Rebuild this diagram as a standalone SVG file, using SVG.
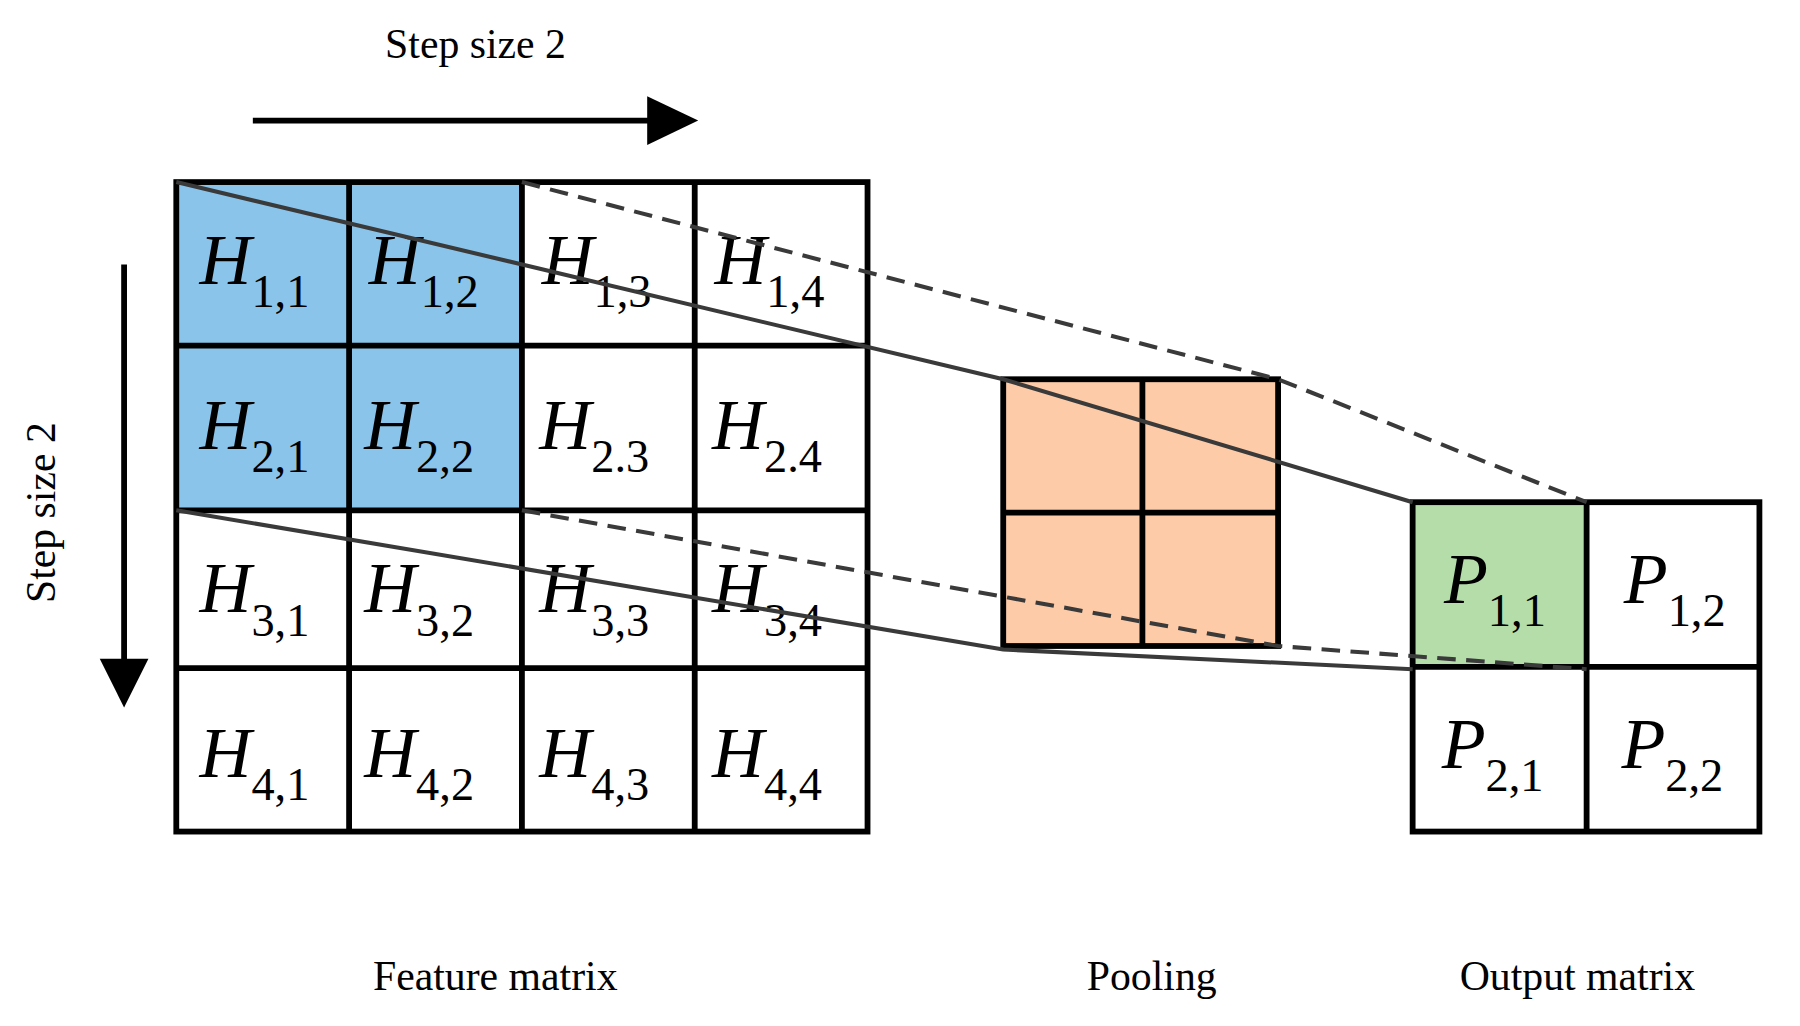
<svg xmlns="http://www.w3.org/2000/svg" width="1800" height="1026" viewBox="0 0 1800 1026">
<style>
.g{fill:none;stroke:#000;stroke-width:5}
.c{stroke:#000;stroke-width:5}
.t{font-family:"Liberation Serif",serif;fill:#000}
.h{font-family:"Liberation Serif",serif;font-style:italic;font-size:62px}
.s{font-size:40px;font-style:normal}
.l{fill:none;stroke:#3a3a3a;stroke-width:3.5}
.d{stroke-dasharray:16 9}
</style>
<rect width="1800" height="1026" fill="#fff"/>
<g transform="scale(1.1598)">
<g id="feature">
<rect x="152" y="157" width="298" height="283" fill="#8BC4EA"/>
<rect x="152" y="157" width="596" height="560" class="g"/>
<path class="g" d="M301 157V717M450 157V717M599 157V717M152 298H748M152 440H748M152 576H748"/>
<g class="h">
<text x="172" y="245">H<tspan class="s" dy="20">1,1</tspan></text>
<text x="318" y="245">H<tspan class="s" dy="20">1,2</tspan></text>
<text x="467" y="245">H<tspan class="s" dy="20">1,3</tspan></text>
<text x="616" y="245">H<tspan class="s" dy="20">1,4</tspan></text>
<text x="172" y="387">H<tspan class="s" dy="20">2,1</tspan></text>
<text x="314" y="387">H<tspan class="s" dy="20">2,2</tspan></text>
<text x="465" y="387">H<tspan class="s" dy="20">2.3</tspan></text>
<text x="614" y="387">H<tspan class="s" dy="20">2.4</tspan></text>
<text x="172" y="528">H<tspan class="s" dy="20">3,1</tspan></text>
<text x="314" y="528">H<tspan class="s" dy="20">3,2</tspan></text>
<text x="465" y="528">H<tspan class="s" dy="20">3,3</tspan></text>
<text x="614" y="528">H<tspan class="s" dy="20">3,4</tspan></text>
<text x="172" y="670">H<tspan class="s" dy="20">4,1</tspan></text>
<text x="314" y="670">H<tspan class="s" dy="20">4,2</tspan></text>
<text x="465" y="670">H<tspan class="s" dy="20">4,3</tspan></text>
<text x="614" y="670">H<tspan class="s" dy="20">4,4</tspan></text>
</g>
</g>
<g id="pooling">
<rect x="865" y="327" width="237" height="230" fill="#FDCBA8" class="c"/>
<path class="g" d="M985 327V557M865 442H1102"/>
</g>
<g id="output">
<rect x="1218" y="433" width="150" height="142" fill="#B5DDAA"/>
<rect x="1218" y="433" width="299" height="284" class="g"/>
<path class="g" d="M1368 433V717M1218 575H1517"/>
<g class="h">
<text x="1245" y="520">P<tspan class="s" dy="20">1,1</tspan></text>
<text x="1400" y="520">P<tspan class="s" dy="20">1,2</tspan></text>
<text x="1243" y="662">P<tspan class="s" dy="20">2,1</tspan></text>
<text x="1398" y="662">P<tspan class="s" dy="20">2,2</tspan></text>
</g>
</g>
<g id="connectors">
<polyline class="l" points="152,157 865,327 1218,433"/>
<polyline class="l d" points="450,157 1102,327 1368,433"/>
<polyline class="l" points="152,440 865,560 1218,577"/>
<polyline class="l d" points="450,440 1102,557 1368,577"/>
<line x1="218" y1="104" x2="565" y2="104" stroke="#000" stroke-width="5"/>
<polygon points="558,83 602,104 558,125"/>
<line x1="107" y1="228" x2="107" y2="575" stroke="#000" stroke-width="5"/>
<polygon points="86,568 128,568 107,610"/>
</g>
<g class="t" font-size="36">
<text x="410" y="50" text-anchor="middle">Step size 2</text>
<text transform="translate(47,442) rotate(-90)" text-anchor="middle">Step size 2</text>
<text x="427" y="854" text-anchor="middle">Feature matrix</text>
<text x="993" y="854" text-anchor="middle">Pooling</text>
<text x="1360" y="854" text-anchor="middle">Output matrix</text>
</g>
</g>
</svg>
